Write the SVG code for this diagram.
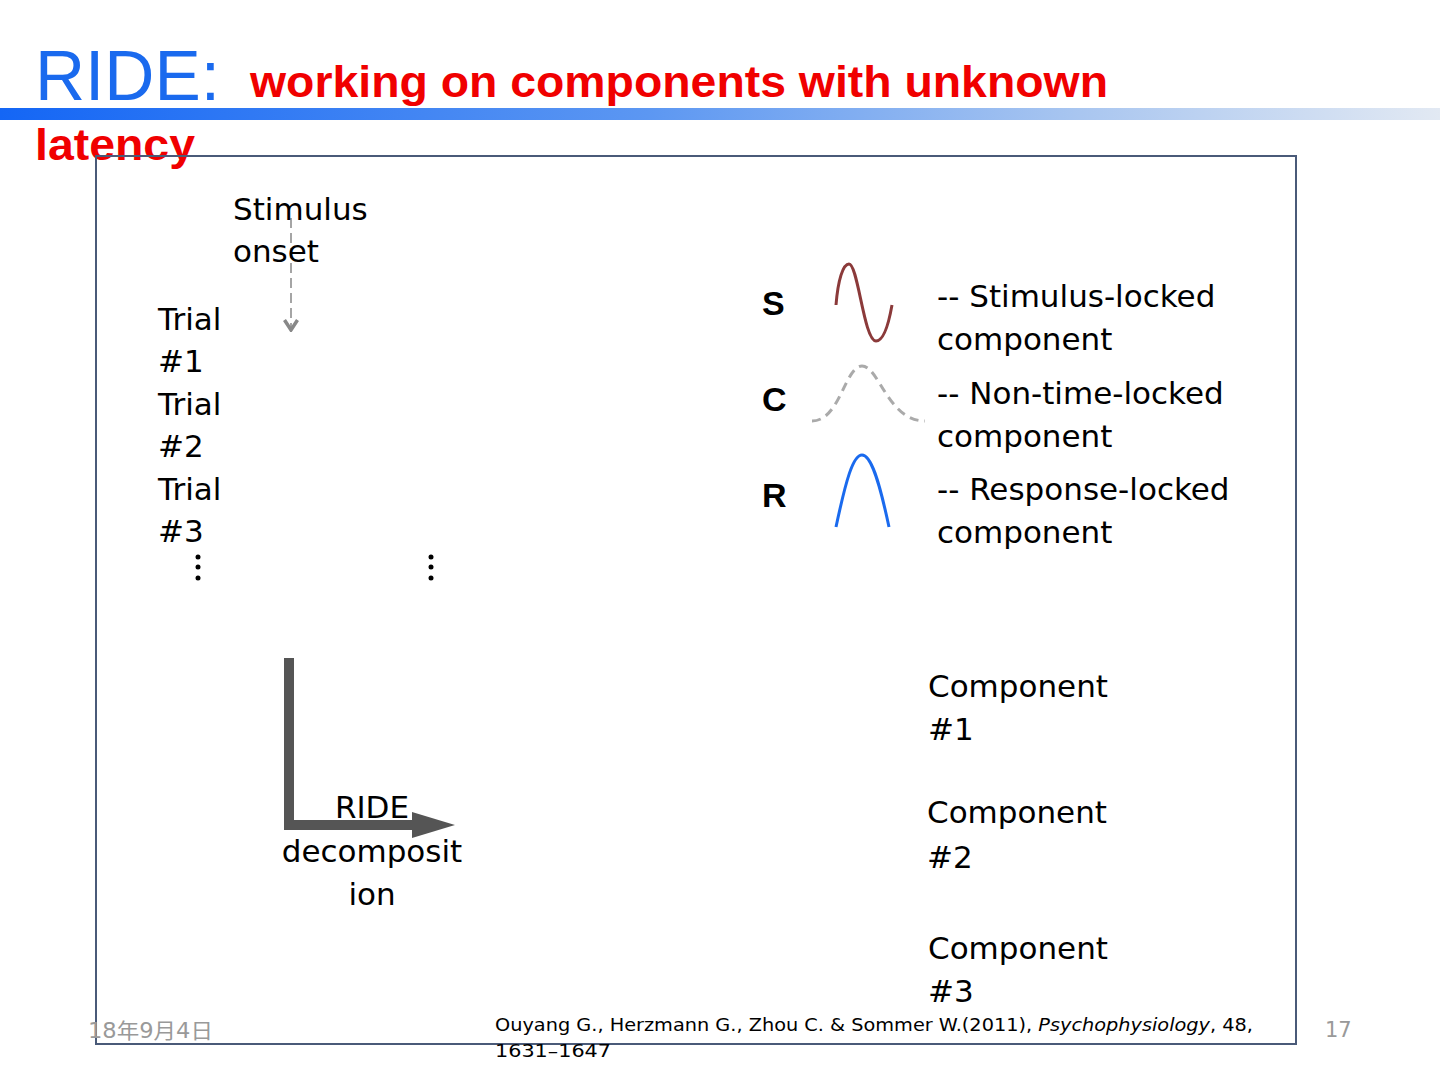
<svg xmlns="http://www.w3.org/2000/svg" width="1440" height="1080" viewBox="0 0 1440 1080">
<defs>
<linearGradient id="bar" x1="0" y1="0" x2="1" y2="0">
<stop offset="0" stop-color="#1466f5"/>
<stop offset="0.45" stop-color="#5c97f2"/>
<stop offset="0.75" stop-color="#a9c6f0"/>
<stop offset="1" stop-color="#e2e9f3"/>
</linearGradient>
<marker id="chev" viewBox="0 0 14 16" refX="12" refY="8" markerWidth="14" markerHeight="16" markerUnits="userSpaceOnUse" orient="auto">
<path d="M2,1.5 L12,8 L2,14.5" fill="none" stroke="#888" stroke-width="3.5"/>
</marker>
</defs>
<style>
.t{font-family:"DejaVu Sans","Liberation Sans",Arial,sans-serif;font-size:31px;fill:#000}
.lab{font-family:"Liberation Sans",Arial,sans-serif;font-size:34px;font-weight:bold;fill:#000}
.foot{font-family:"DejaVu Sans","Noto Sans CJK SC",sans-serif;fill:#999;font-size:21px}
.ref{font-family:"DejaVu Sans","Liberation Sans",Arial,sans-serif;font-size:18.5px;fill:#000}
</style>
<rect width="1440" height="1080" fill="#fff"/>
<rect x="0" y="108" width="1440" height="12" fill="url(#bar)"/>
<g id="title">
<text x="35" y="100" font-family="Liberation Sans,Arial,sans-serif" font-size="70" fill="#1a6aee" textLength="185" lengthAdjust="spacingAndGlyphs">RIDE:</text>
<text x="250" y="97" font-family="Liberation Sans,Arial,sans-serif" font-size="44" font-weight="bold" fill="#f00000" textLength="858" lengthAdjust="spacingAndGlyphs">working on components with unknown</text>
<text x="35" y="160" font-family="Liberation Sans,Arial,sans-serif" font-size="44" font-weight="bold" fill="#f00000" textLength="160" lengthAdjust="spacingAndGlyphs">latency</text>
</g>
<rect id="frame" x="96" y="156" width="1200" height="888" fill="none" stroke="#4a5a78" stroke-width="2"/>
<g id="connectors">
<line x1="291" y1="218" x2="291" y2="330" stroke="#888" stroke-width="1.5" stroke-dasharray="10,5" marker-end="url(#chev)"/>
<path d="M289,658 V825 H418" fill="none" stroke="#555" stroke-width="10"/>
<polygon points="412,812 455,825 412,838" fill="#555"/>
</g>
<g id="stimulus-onset"><text class="t" x="233" y="220">Stimulus</text><text class="t" x="233" y="262">onset</text></g>
<g id="trials">
<text class="t" x="158" y="330">Trial</text><text class="t" x="158" y="372">#1</text>
<text class="t" x="158" y="415">Trial</text><text class="t" x="158" y="457">#2</text>
<text class="t" x="158" y="500">Trial</text><text class="t" x="158" y="542">#3</text>
<g fill="#000"><circle cx="198" cy="557" r="2.5"/><circle cx="198" cy="567" r="2.5"/><circle cx="198" cy="578" r="2.5"/>
<circle cx="431" cy="557" r="2.5"/><circle cx="431" cy="567" r="2.5"/><circle cx="431" cy="578" r="2.5"/></g>
</g>
<g id="legend-S">
<text class="lab" x="762" y="315">S</text>
<path d="M836,305 C838,280 843,264 849,264 C858,264 864,341 876,341 C884,341 889,322 892,305" fill="none" stroke="#8b3a3a" stroke-width="3"/>
<text class="t" x="937" y="307">-- Stimulus-locked</text><text class="t" x="937" y="350">component</text>
</g>
<g id="legend-C">
<text class="lab" x="762" y="411">C</text>
<path d="M812,421 C840,421 845,366 862,366 C879,366 888,421 925,421" fill="none" stroke="#aaa" stroke-width="3" stroke-dasharray="9,6"/>
<text class="t" x="937" y="404">-- Non-time-locked</text><text class="t" x="937" y="447">component</text>
</g>
<g id="legend-R">
<text class="lab" x="762" y="507">R</text>
<path d="M836,527 C846,480 853,455 862,455 C871,455 879,480 889,527" fill="none" stroke="#1a6aee" stroke-width="3"/>
<text class="t" x="937" y="500">-- Response-locked</text><text class="t" x="937" y="543">component</text>
</g>
<g id="ride-decomposition"><text class="t" text-anchor="middle" x="372" y="818">RIDE</text><text class="t" text-anchor="middle" x="372" y="862">decomposit</text><text class="t" text-anchor="middle" x="372" y="905">ion</text></g>
<g id="component1"><text class="t" x="928" y="697">Component</text><text class="t" x="928" y="740">#1</text></g>
<g id="component2"><text class="t" x="927" y="823">Component</text><text class="t" x="927" y="868">#2</text></g>
<g id="component3"><text class="t" x="928" y="959">Component</text><text class="t" x="928" y="1002">#3</text></g>
<g id="footer">
<text class="foot" x="88" y="1038" textLength="125" lengthAdjust="spacingAndGlyphs">18年9月4日</text>
<text class="ref" x="495" y="1031" textLength="758" lengthAdjust="spacingAndGlyphs">Ouyang G., Herzmann G., Zhou C. &amp; Sommer W.(2011), <tspan font-style="italic">Psychophysiology</tspan>, 48,</text>
<text class="ref" x="495" y="1057" textLength="116" lengthAdjust="spacingAndGlyphs">1631–1647</text>
<text class="foot" x="1325" y="1037">17</text>
</g>
</svg>
